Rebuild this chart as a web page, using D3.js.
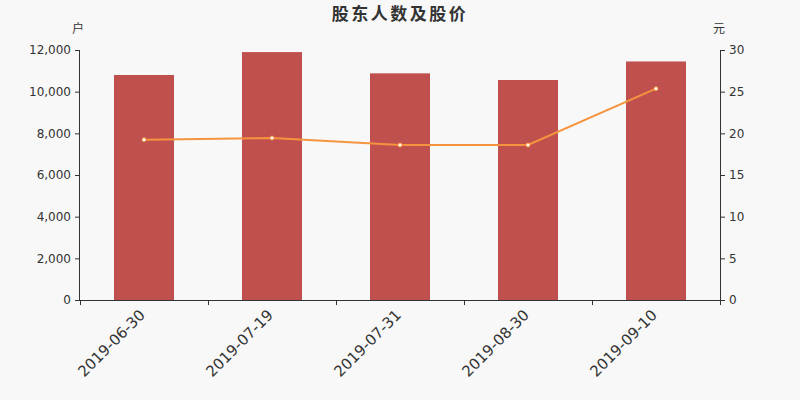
<!DOCTYPE html>
<html><head><meta charset="utf-8">
<script src="https://cdn.jsdelivr.net/npm/d3@7"></script>
<style>body{margin:0;background:#f8f8f8}svg{display:block}text{font-family:"DejaVu Sans","Noto Sans CJK SC",sans-serif}</style>
</head><body><svg id="c" width="800" height="400"></svg>
<script>
const categories = ["2019-06-30","2019-07-19","2019-07-31","2019-08-30","2019-09-10"];
const holders = [10800, 11900, 10880, 10560, 11450];
const prices = [19.24, 19.44, 18.6, 18.6, 25.36];
const leftTicks = [0,2000,4000,6000,8000,10000,12000];
const rightTicks = [0,5,10,15,20,25,30];

const svg = d3.select("#c");
svg.append("rect").attr("width",800).attr("height",400).attr("fill","#f8f8f8");
const L=80,R=720,T=50,B=300;
const x = d3.scaleBand().domain(categories).range([L,R]);
const yL = d3.scaleLinear().domain([0,12000]).range([B,T]);
const yR = d3.scaleLinear().domain([0,30]).range([B,T]);
const col="#333";

svg.append("text").attr("x",400).attr("y",20).attr("text-anchor","middle")
  .attr("font-size",17).attr("font-weight","bold").attr("letter-spacing","2.5px").attr("fill",col).attr("font-family","Noto Sans CJK SC").text("股东人数及股价");
svg.append("text").attr("x",78).attr("y",33).attr("text-anchor","middle").attr("font-size",12).attr("fill",col).attr("font-family","Noto Sans CJK SC").text("户");
svg.append("text").attr("x",719).attr("y",33).attr("text-anchor","middle").attr("font-size",12).attr("fill",col).attr("font-family","Noto Sans CJK SC").text("元");

const bw=60;
svg.selectAll(".bar").data(holders).enter().append("rect")
  .attr("x",(d,i)=>x(categories[i])+x.bandwidth()/2-bw/2)
  .attr("y",d=>yL(d)).attr("width",bw).attr("height",d=>B-yL(d)).attr("fill","#c0504d");

const gl = svg.append("g").attr("transform",`translate(${L},0)`)
  .call(d3.axisLeft(yL).tickValues(leftTicks).tickFormat(d3.format(",")).tickSize(5).tickPadding(4));
const gr = svg.append("g").attr("transform",`translate(${R},0)`)
  .call(d3.axisRight(yR).tickValues(rightTicks).tickSize(5).tickPadding(4));
const gx = svg.append("g").attr("transform",`translate(0,${B})`)
  .call(d3.axisBottom(x).tickSize(0).tickPadding(8));
// boundary ticks
const bounds = categories.map(c=>x(c)).concat([R]);
svg.selectAll(".bt").data(bounds).enter().append("line")
  .attr("x1",d=>d+0.5).attr("x2",d=>d+0.5).attr("y1",B).attr("y2",B+5).attr("stroke",col);
[gl,gr,gx].forEach(g=>{
  g.selectAll("path.domain").attr("stroke",col).attr("stroke-width",1);
  g.selectAll(".tick line").attr("stroke",col);
  g.selectAll("text").attr("fill",col).attr("font-size",12).attr("font-family","DejaVu Sans");
});
gl.select("path.domain").attr("d",`M-0.5,${T}V${B}`);
gr.select("path.domain").attr("d",`M0.5,${T}V${B+5}`);
gx.select("path.domain").attr("d",`M${L},0.5H${R}`);
gx.selectAll(".tick text").attr("font-size",15).attr("text-anchor","end")
  .attr("y",0).attr("dy",0)
  .attr("transform","translate(2,16) rotate(-45)");

const line = d3.line().x((d,i)=>x(categories[i])+x.bandwidth()/2).y(d=>yR(d));
svg.append("path").datum(prices).attr("d",line).attr("fill","none").attr("stroke","#f5943f").attr("stroke-width",2);
svg.selectAll(".pt").data(prices).enter().append("circle")
  .attr("cx",(d,i)=>x(categories[i])+x.bandwidth()/2).attr("cy",d=>yR(d)).attr("r",2)
  .attr("fill","#fff").attr("stroke","#f5943f").attr("stroke-width",1);
</script></body></html>
